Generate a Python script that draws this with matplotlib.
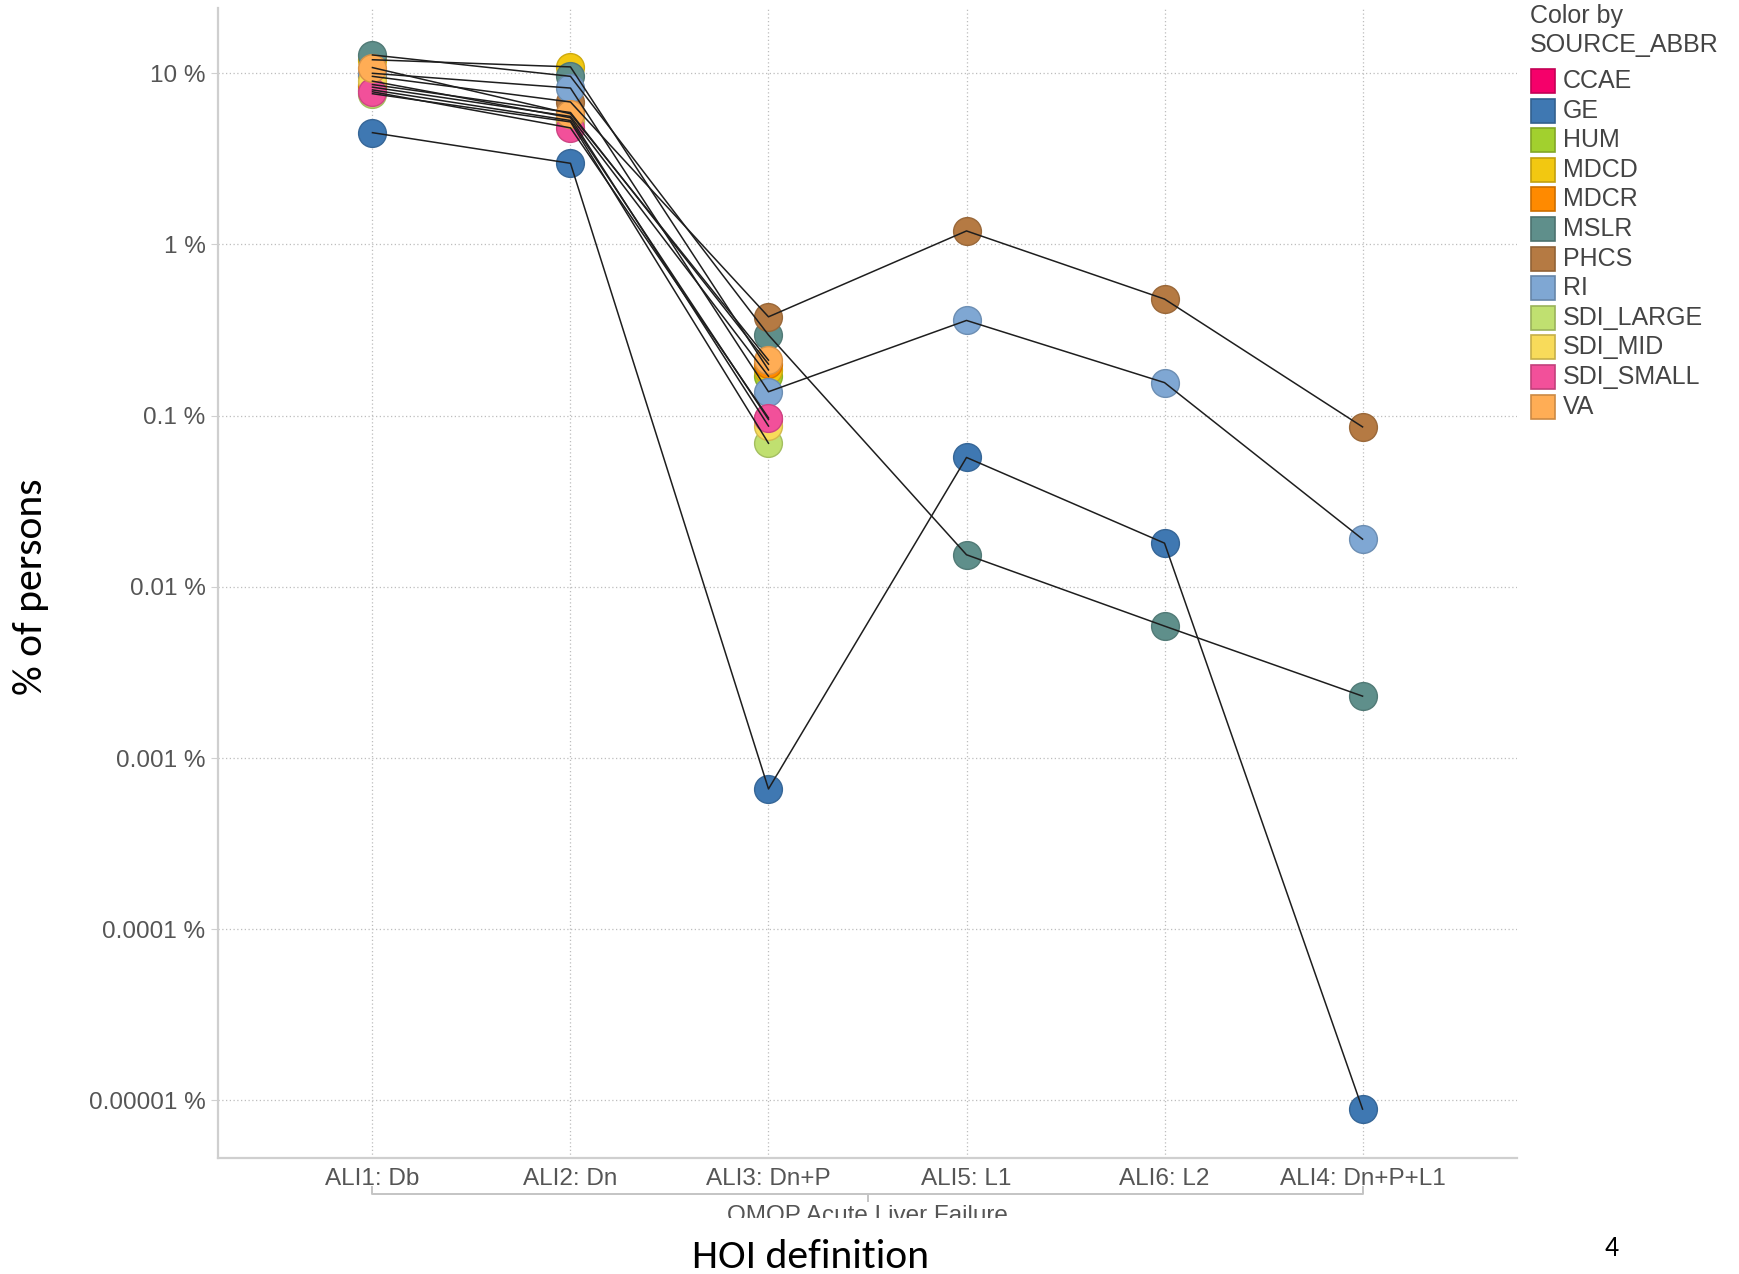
import numpy as np
import matplotlib
matplotlib.use('Agg')
import matplotlib.pyplot as plt
import matplotlib.colors as mcolors
from matplotlib import font_manager
from matplotlib.patches import Rectangle
from matplotlib.ticker import FixedLocator, FixedFormatter, NullLocator
from matplotlib.transforms import blended_transform_factory

W, H = 1739, 1274

categories = ['ALI1: Db', 'ALI2: Dn', 'ALI3: Dn+P', 'ALI5: L1', 'ALI6: L2', 'ALI4: Dn+P+L1']
group_label = 'OMOP Acute Liver Failure'

sources = ['CCAE', 'GE', 'HUM', 'MDCD', 'MDCR', 'MSLR', 'PHCS', 'RI',
           'SDI_LARGE', 'SDI_MID', 'SDI_SMALL', 'VA']
source_colors = ['#f5006a', '#3f78b2', '#a2d02e', '#f2c811', '#ff8a00', '#5f8f8b',
                 '#b57a43', '#7fa7d3', '#c0e070', '#f8db5a', '#f2509a', '#ffad55']

# % of persons, in category order (only four sources go past ALI3)
ccae = [8.0, 5.3, 0.095]
ge = [4.5, 2.98, 0.00066, 0.057, 0.018, 0.0000089]
hum = [8.3, 5.6, 0.17]
mdcd = [12.0, 10.9, 0.185]
mdcr = [8.6, 5.9, 0.2]
mslr = [12.8, 9.6, 0.296, 0.0154, 0.0059, 0.0023]
phcs = [9.6, 6.8, 0.378, 1.2, 0.48, 0.086]
ri = [10.0, 8.2, 0.138, 0.36, 0.156, 0.019]
sdi_large = [7.6, 5.2, 0.069]
sdi_mid = [9.0, 5.5, 0.087]
sdi_small = [7.8, 4.8, 0.097]
va = [10.8, 5.8, 0.211]

series = [ccae, ge, hum, mdcd, mdcr, mslr, phcs, ri, sdi_large, sdi_mid, sdi_small, va]

ytick_values = [1e-5, 1e-4, 1e-3, 1e-2, 1e-1, 1, 10]
ytick_labels = ['0.00001 %', '0.0001 %', '0.001 %', '0.01 %', '0.1 %', '1 %', '10 %']

names = {f.name for f in font_manager.fontManager.ttflist}
NARROW = 'Liberation Sans Narrow' if 'Liberation Sans Narrow' in names else 'Liberation Sans'
NARROW_SIZE = 21 if NARROW == 'Liberation Sans Narrow' else 17.5
SLIDE = 'Carlito' if 'Carlito' in names else 'Lato'
SLIDE_SIZE = 30 if SLIDE == 'Carlito' else 27.5


def px(x, y):
    # full-size pixel position -> figure fraction
    return x / W, 1 - y / H


def darker(c, f=0.8):
    r, g, b = mcolors.to_rgb(c)
    return (r * f, g * f, b * f)


plt.rc('font', family='Liberation Sans')

fig = plt.figure(figsize=(W / 100, H / 100), dpi=100)
left, top = px(218, 8)
right, bottom = px(1517, 1158)
ax = fig.add_axes([left, bottom, right - left, top - bottom])

for i, (col, vals) in enumerate(zip(source_colors, series)):
    x = np.arange(len(vals))
    ax.plot(x, vals, linestyle='none', marker='o', ms=20, mfc=col,
            mec=darker(col, 0.85), mew=1.0, zorder=3 + i * 0.01)
for vals in series:
    ax.plot(np.arange(len(vals)), vals, color='#1e1e1e', lw=1.1, zorder=10)

ax.set_yscale('log')
ax.set_ylim(4.61e-6, 24.07)
ax.set_xlim(-0.78, 5.78)
ax.yaxis.set_major_locator(FixedLocator(ytick_values))
ax.yaxis.set_major_formatter(FixedFormatter(ytick_labels))
ax.yaxis.set_minor_locator(NullLocator())
ax.set_xticks(range(len(categories)))
ax.set_xticklabels(categories, family=NARROW, fontsize=NARROW_SIZE, color='#555555')

ax.grid(True, linestyle=(0, (1, 2)), color='#bdbdbd', lw=0.9)
ax.set_axisbelow(True)
for s in ['top', 'right']:
    ax.spines[s].set_visible(False)
for s in ['left', 'bottom']:
    ax.spines[s].set_color('#cfcfcf')
    ax.spines[s].set_linewidth(1.6)
ax.tick_params(axis='y', length=5, color='#d0d0d0', width=0.8, pad=4,
               labelsize=17.5, labelcolor='#555555')
ax.tick_params(axis='x', length=0, pad=7)

# group bracket under the category labels
tr = blended_transform_factory(ax.transData, fig.transFigure)
yb = px(0, 1194)[1]
tick = 7 / H
ax.plot([0, 0, 5, 5], [yb + tick, yb, yb, yb + tick], color='#c4c4c4', lw=1.4,
        transform=tr, clip_on=False)
ax.plot([2.5, 2.5], [yb, yb - tick], color='#c4c4c4', lw=1.4, transform=tr, clip_on=False)
ax.text(2.5, px(0, 1216)[1], group_label, transform=tr, ha='center', va='center',
        family=NARROW, fontsize=NARROW_SIZE, color='#555555')
# the group label is cut off at the bottom in the slide
fig.patches.append(Rectangle(px(600, 1237), 560 / W, 19 / H, transform=fig.transFigure,
                             facecolor='white', edgecolor='none', zorder=20))

fig.text(*px(31, 587), '% of persons', rotation=90, ha='center', va='center',
         family=SLIDE, fontsize=SLIDE_SIZE, color='black')
fig.text(*px(810, 1257), 'HOI definition', ha='center', va='center',
         family=SLIDE, fontsize=SLIDE_SIZE, color='black', zorder=30)
fig.text(*px(1612, 1249), '4', ha='center', va='center', family=SLIDE,
         fontsize=20, color='black')

# legend
fig.text(*px(1530, 16), 'Color by', ha='left', va='center', fontsize=18, color='#444444')
fig.text(*px(1530, 45), 'SOURCE_ABBR', ha='left', va='center', fontsize=18, color='#444444')
for i, (name, col) in enumerate(zip(sources, source_colors)):
    yc = 81 + i * 29.6
    fig.patches.append(Rectangle(px(1531, yc + 12), 24 / W, 24 / H, transform=fig.transFigure,
                                 facecolor=col, edgecolor=darker(col, 0.8), lw=1.2))
    fig.text(*px(1563, yc), name, ha='left', va='center', fontsize=18, color='#444444')

fig.savefig('out.png', dpi=100)
